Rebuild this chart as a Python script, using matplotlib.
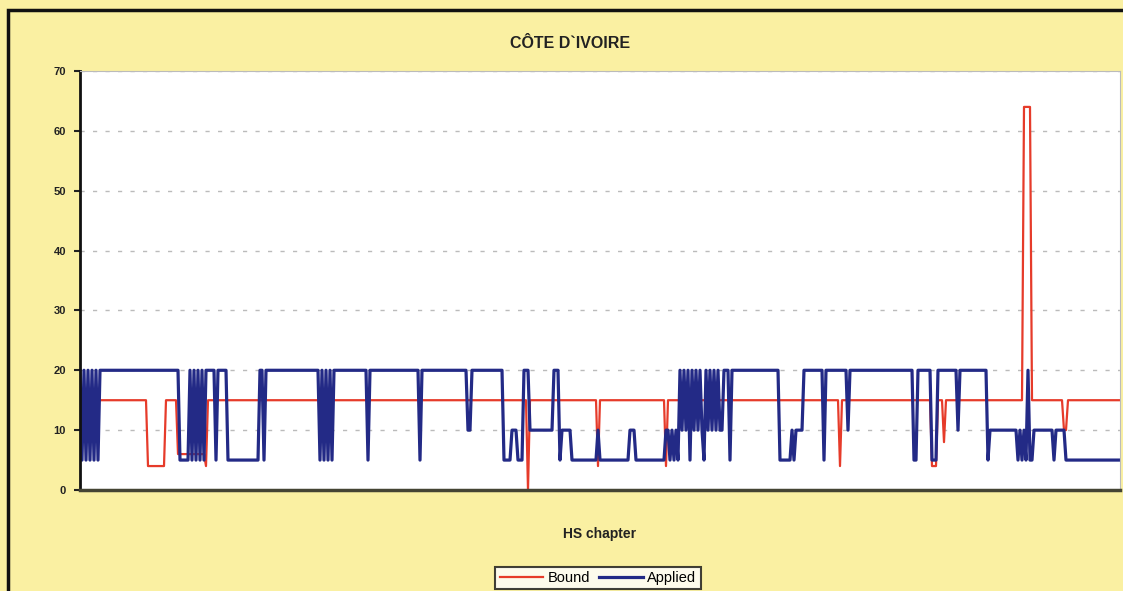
import numpy as np
import matplotlib
matplotlib.use('Agg')
import matplotlib.pyplot as plt
from matplotlib.patches import Rectangle

plt.rcParams['font.family'] = ['Liberation Sans', 'DejaVu Sans']

# tariff lines as (rate, number of lines) runs
bound_runs = [
    (15, 34), (4, 9), (15, 6), (6, 14), (4, 1), (15, 160), (0, 1), (15, 34),
    (4, 1), (15, 33), (4, 1), (15, 86), (4, 1), (15, 45), (4, 3), (15, 3),
    (8, 1), (15, 39), (64, 4), (15, 16), (10, 2), (15, 27),
]
applied_runs = [
    (20, 1), (5, 1), (20, 1), (5, 1), (20, 1), (5, 1), (20, 1), (5, 1), (20, 1), (5, 1),
    (20, 40), (5, 5),
    (20, 1), (5, 1), (20, 1), (5, 1), (20, 1), (5, 1), (20, 1), (5, 1), (20, 1),
    (20, 4), (5, 1), (20, 5), (5, 16), (20, 2), (5, 1), (20, 27),
    (5, 1), (20, 1), (5, 1), (20, 1), (5, 1), (20, 1), (5, 1),
    (20, 17), (5, 1), (20, 25), (5, 1), (20, 23), (10, 2), (20, 16),
    (5, 4), (10, 3), (5, 3), (20, 3), (10, 12), (20, 3), (5, 1), (10, 5),
    (5, 13), (10, 1), (5, 15), (10, 3), (5, 15),
    (10, 2), (5, 1), (10, 1), (5, 1), (10, 1), (5, 1),
    (20, 1), (10, 1), (20, 1), (10, 1), (20, 1), (5, 1), (20, 1), (10, 1), (20, 1), (10, 1),
    (20, 1), (10, 1), (5, 1), (20, 1), (10, 1), (20, 1), (10, 1), (20, 1), (10, 1), (20, 1),
    (10, 2),
    (20, 3), (5, 1), (20, 24), (5, 6), (10, 1), (5, 1), (10, 4), (20, 10), (5, 1),
    (20, 11), (10, 1), (20, 32), (5, 2), (20, 7), (5, 3), (20, 10), (10, 1), (20, 14),
    (5, 1), (10, 14), (5, 1), (10, 1), (5, 1), (10, 1), (5, 1), (20, 1), (5, 2),
    (10, 10), (5, 1), (10, 5), (5, 28),
]

bound = np.repeat([v for v, n in bound_runs], [n for v, n in bound_runs])
applied = np.repeat([v for v, n in applied_runs], [n for v, n in applied_runs])
x = np.arange(len(applied))

fig = plt.figure(figsize=(11.23, 5.91), dpi=100)
fig.patch.set_facecolor('#FAF0A2')

# dark frame around the chart area
fig.patches.append(Rectangle((8 / 1123, -0.05), 1.2, 1 - 10 / 591 + 0.05,
                             transform=fig.transFigure, fill=False,
                             edgecolor='#111111', linewidth=2.5, zorder=10))

ax = fig.add_axes([80 / 1123, 1 - 490 / 591, 1040 / 1123, 419 / 591])
ax.set_facecolor('white')

ax.plot(x, bound, color='#E63B2A', linewidth=1.6, label='Bound')
ax.plot(x, applied, color='#232A86', linewidth=2.3, label='Applied')

ax.set_xlim(0, len(x) - 1)
ax.set_ylim(0, 70)
ax.set_yticks(range(0, 71, 10))
ax.set_xticks([])
ax.tick_params(axis='y', length=4, width=1.5, direction='out', pad=6,
               labelsize=8, colors='#222222')
for lbl in ax.get_yticklabels():
    lbl.set_fontweight('bold')

ax.yaxis.grid(True, linestyle=(0, (3, 6)), color='#BBBBBB', linewidth=1)
ax.set_axisbelow(True)

ax.spines['left'].set_linewidth(2)
ax.spines['left'].set_color('#111111')
ax.spines['bottom'].set_linewidth(2.5)
ax.spines['bottom'].set_color('#444433')
ax.spines['top'].set_color('#BBBBBB')
ax.spines['right'].set_color('#BBBBBB')

fig.text(570 / 1123, 1 - 43 / 591, 'CÔTE D`IVOIRE', ha='center', va='center',
         fontsize=11.5, fontweight='bold', color='#222222')
fig.text(600 / 1123, 1 - 534 / 591, 'HS chapter', ha='center', va='center',
         fontsize=10, fontweight='bold', color='#222222')

leg = fig.legend(loc='center', bbox_to_anchor=(598 / 1123, 1 - 578 / 591),
                 ncol=2, frameon=True, fancybox=False, fontsize=10.5,
                 handlelength=3.0, handletextpad=0.3, columnspacing=0.6,
                 borderpad=0.3)
leg.get_frame().set_edgecolor('#111111')
leg.get_frame().set_linewidth(1.5)

fig.savefig('out.png', dpi=100, facecolor=fig.get_facecolor())
